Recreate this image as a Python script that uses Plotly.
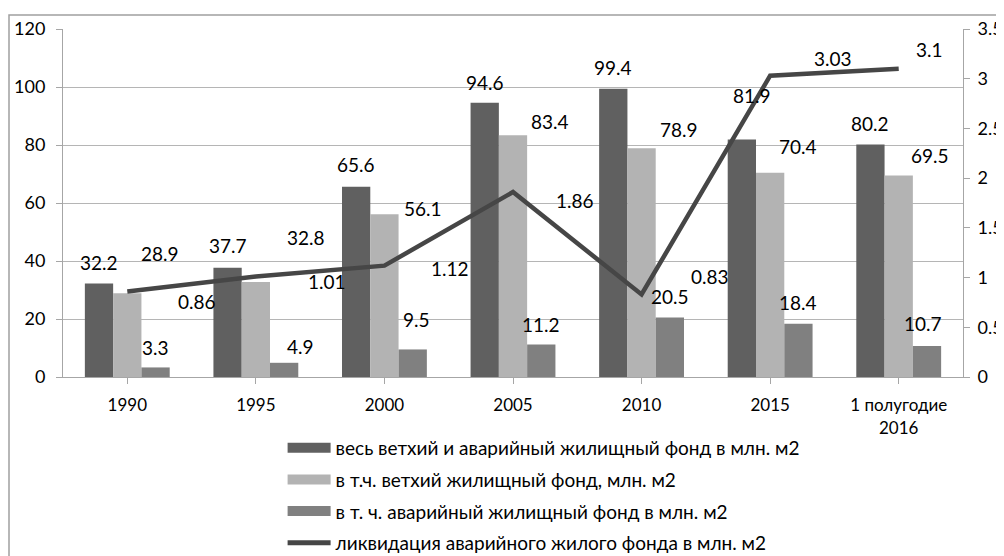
import plotly.graph_objects as go

categories = ["1990", "1995", "2000", "2005", "2010", "2015", "1 полугодие<br>2016"]
total_fund = [32.2, 37.7, 65.6, 94.6, 99.4, 81.9, 80.2]
dilapidated = [28.9, 32.8, 56.1, 83.4, 78.9, 70.4, 69.5]
emergency = [3.3, 4.9, 9.5, 11.2, 20.5, 18.4, 10.7]
liquidation = [0.86, 1.01, 1.12, 1.86, 0.83, 3.03, 3.1]

names = [
    "весь ветхий и аварийный жилищный фонд в млн. м2",
    "в т.ч. ветхий жилищный фонд, млн. м2",
    "в т. ч. аварийный жилищный фонд в млн. м2",
    "ликвидация аварийного жилого фонда в млн. м2",
]
colors = ["#606060", "#b3b3b3", "#808080", "#464646"]

# label offsets in pixels (dx right, dy up) -- layout only
off_total = [(0, 21), (0, 22), (0, 22), (0, 20), (0, 21), (10, 44), (0, 21)]
off_dil = [(33, 40), (50, 44), (39, 6), (37, 14), (37, 19), (28, 26), (31, 20)]
off_emg = [(0, 20), (16, 16), (4, 30), (0, 20), (0, 21), (0, 21), (-4, 22)]
off_liq = [(70, -10), (71, -5), (66, -3), (62, -8), (68, 18), (63, 17), (31, 19)]

FONT = "Lato, Carlito, Noto Sans, sans-serif"
TXT = "#000000"
x = list(range(len(categories)))

fig = go.Figure()
for vals, nm, col in [(total_fund, names[0], colors[0]),
                      (dilapidated, names[1], colors[1]),
                      (emergency, names[2], colors[2])]:
    fig.add_trace(go.Bar(x=x, y=vals, name=nm, marker=dict(color=col, line=dict(width=0)),
                         showlegend=False))

fig.add_trace(go.Scatter(x=x, y=liquidation, name=names[3], mode="lines", yaxis="y2",
                         line=dict(color=colors[3], width=4.5), showlegend=False))

# legend entries
for i, (nm, col) in enumerate(zip(names, colors)):
    fig.add_trace(go.Scatter(x=[None], y=[None], mode="lines", name=nm,
                             line=dict(color=col, width=12 if i < 3 else 5),
                             legendgroup=f"g{i}", showlegend=True))

bargap = 0.34
bw = 900 / 7 * (1 - bargap) / 3
ann = []
for series, offs, shift in [(total_fund, off_total, -bw), (dilapidated, off_dil, 0), (emergency, off_emg, bw)]:
    for xi, v, (dx, dy) in zip(x, series, offs):
        ann.append(dict(x=xi, y=v, xref="x", yref="y", text=f"{v}", showarrow=False,
                        xshift=shift + dx, yshift=dy, xanchor="center", yanchor="middle",
                        font=dict(family=FONT, size=19, color=TXT)))
for xi, v, (dx, dy) in zip(x, liquidation, off_liq):
    ann.append(dict(x=xi, y=v, xref="x", yref="y2", text=f"{v}", showarrow=False,
                    xshift=dx, yshift=dy, xanchor="center", yanchor="middle",
                    font=dict(family=FONT, size=19, color=TXT)))

fig.update_layout(
    width=1004, height=556,
    margin=dict(l=55, r=49, t=21, b=187, autoexpand=False),
    paper_bgcolor="white", plot_bgcolor="white",
    barmode="group", bargap=bargap, bargroupgap=0,
    font=dict(family=FONT, size=17, color=TXT),
    xaxis=dict(tickvals=x, ticktext=categories, range=[-0.5, 6.5],
               showgrid=False, showline=True, linecolor="#a6a6a6", linewidth=1,
               ticks="outside", tickson="boundaries", ticklen=6, tickcolor="#a6a6a6",
               ticklabelstandoff=7, tickfont=dict(family=FONT, size=17, color=TXT)),
    yaxis=dict(range=[0, 120], dtick=20, showgrid=True, gridcolor="#b5b5b5", gridwidth=1,
               showline=True, linecolor="#a6a6a6", linewidth=1, zeroline=False,
               ticks="outside", ticklen=6, tickcolor="#a6a6a6", ticklabelstandoff=7,
               tickfont=dict(family=FONT, size=18, color=TXT)),
    yaxis2=dict(range=[0, 3.5], dtick=0.5, overlaying="y", side="right", showgrid=False,
                showline=True, linecolor="#a6a6a6", linewidth=1, zeroline=False,
                ticks="outside", ticklen=6, tickcolor="#a6a6a6", ticklabelstandoff=4,
                tickfont=dict(family=FONT, size=18, color=TXT)),
    legend=dict(x=0.244, y=-0.149, xanchor="left", yanchor="top", orientation="v",
                tracegroupgap=4, font=dict(family=FONT, size=19, color=TXT),
                bgcolor="rgba(0,0,0,0)", itemwidth=43),
    annotations=ann,
    shapes=[dict(type="rect", xref="paper", yref="paper", x0=-0.06, x1=1.06,
                 y0=-0.6, y1=1.0402, line=dict(color="#a0a0a0", width=1.5),
                 fillcolor="rgba(0,0,0,0)", layer="below")],
)

fig.write_html("out.html")
